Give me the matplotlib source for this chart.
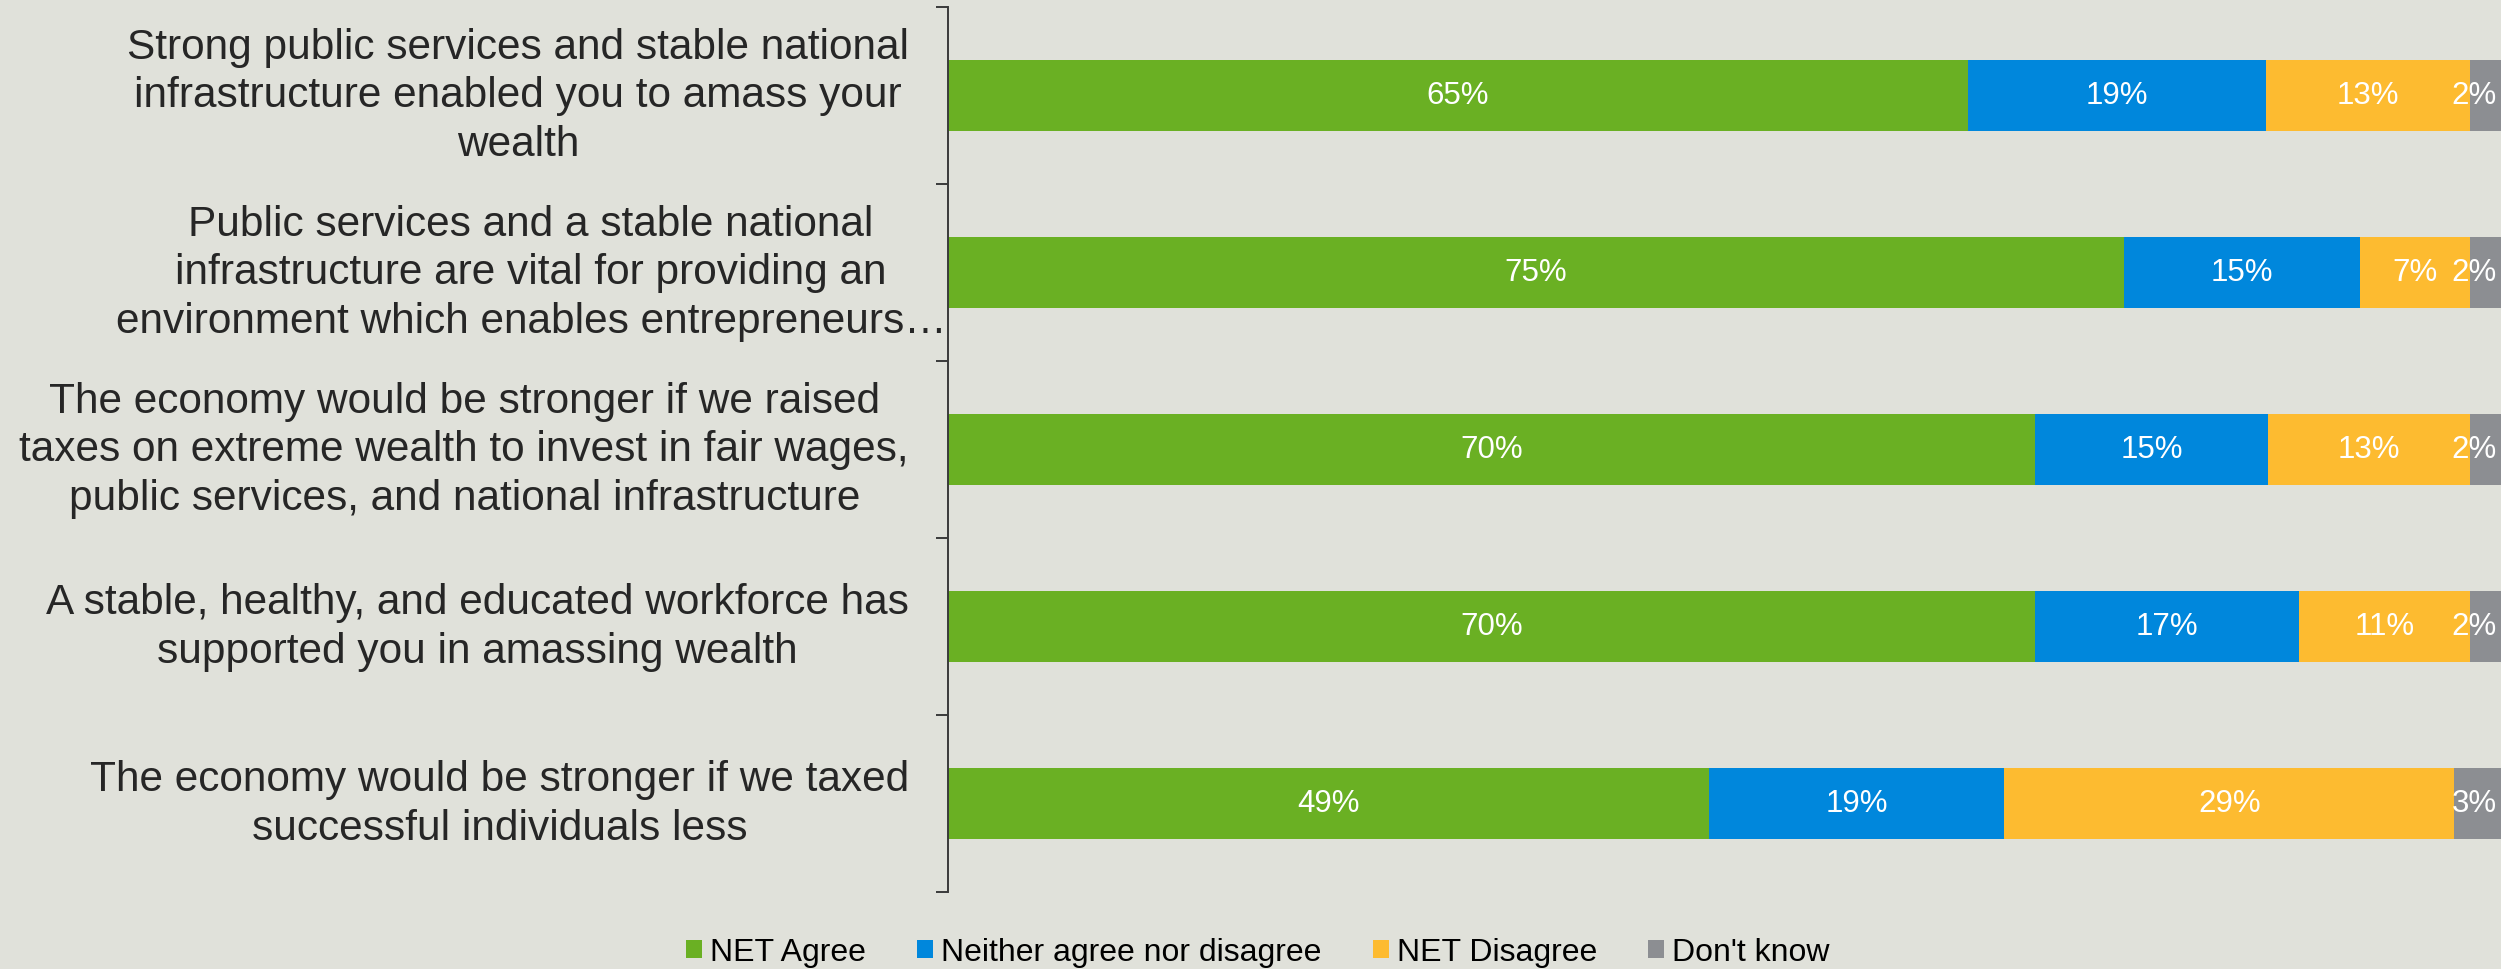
import matplotlib
matplotlib.use('Agg')
import matplotlib.pyplot as plt
import numpy as np

plt.rcParams['font.family'] = ['Liberation Sans', 'DejaVu Sans']

# Survey statements (top to bottom)
statements = [
    'Strong public services and stable national\ninfrastructure enabled you to amass your\nwealth',
    'Public services and a stable national\ninfrastructure are vital for providing an\nenvironment which enables entrepreneurs\u2026',
    'The economy would be stronger if we raised\ntaxes on extreme wealth to invest in fair wages,\npublic services, and national infrastructure',
    'A stable, healthy, and educated workforce has\nsupported you in amassing wealth',
    'The economy would be stronger if we taxed\nsuccessful individuals less',
]

# Response shares (%) per statement
net_agree = [65, 75, 70, 70, 49]
neither = [19, 15, 15, 17, 19]
net_disagree = [13, 7, 13, 11, 29]
dont_know = [2, 2, 2, 2, 3]

series_names = ['NET Agree', 'Neither agree nor disagree', 'NET Disagree', "Don't know"]
series_colors = ['#6AB023', '#0087DC', '#FDBB30', '#8C8E92']

bg = '#E0E1DA'
text_color = '#262626'

data = np.array([net_agree, neither, net_disagree, dont_know], dtype=float)
# 100% stacked: each bar fills the full width
shares = data / data.sum(axis=0) * 100

fig = plt.figure(figsize=(25.01, 9.70), dpi=100, facecolor=bg)
ax = fig.add_axes([0.379, 0.0794, 0.621, 0.9124])
ax.set_facecolor(bg)

y = np.arange(len(statements))
left = np.zeros(len(statements))
n_series = len(series_names)
for k, (name, color, vals, raw) in enumerate(zip(series_names, series_colors, shares, data)):
    ax.barh(y, vals, left=left, height=0.4, color=color, label=name)
    for yi, l, v, r in zip(y, left, vals, raw):
        if k == n_series - 1:
            # last segment is thin: keep its label inside the chart
            ax.annotate(f'{int(r)}%', xy=(l + v, yi), xytext=(-3, 0),
                        textcoords='offset points', ha='right', va='center',
                        color='white', fontsize=22.5)
        else:
            ax.text(l + v / 2, yi, f'{int(r)}%', ha='center', va='center',
                    color='white', fontsize=22.5)
    left += vals

ax.set_xlim(0, 100)
ax.set_ylim(len(statements) - 0.5, -0.5)

# Category labels, right aligned block, centered lines
for yi, label in zip(y, statements):
    pad = 1 if label.endswith('\u2026') else 28
    ax.annotate(label, xy=(0, yi), xycoords=('axes fraction', 'data'),
                xytext=(-pad, 0), textcoords='offset points',
                ha='right', va='center', multialignment='center',
                fontsize=30.5, color=text_color, linespacing=1.27)

# Left axis with ticks between categories
ax.set_yticks(np.arange(-0.5, len(statements), 1.0))
ax.set_yticklabels([])
ax.tick_params(axis='y', direction='out', length=9, width=1.4, color='#3A3A3A')
ax.set_xticks([])
for side in ['top', 'right', 'bottom']:
    ax.spines[side].set_visible(False)
ax.spines['left'].set_color('#3A3A3A')
ax.spines['left'].set_linewidth(1.4)

fig.legend(loc='center', bbox_to_anchor=(0.503, 0.0175), ncol=4, frameon=False,
           fontsize=23, handlelength=0.5, handleheight=0.5, handletextpad=0.25,
           columnspacing=1.6, labelcolor='black')

plt.savefig('out.png', dpi=100, facecolor=bg)
